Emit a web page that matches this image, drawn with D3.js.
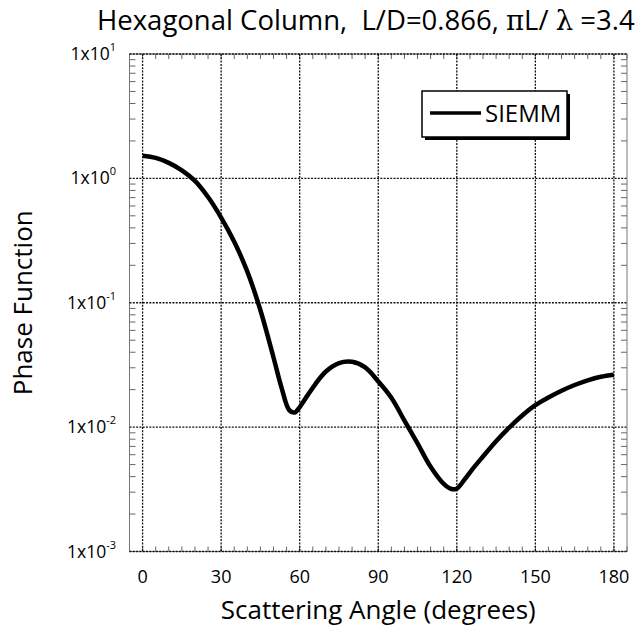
<!DOCTYPE html>
<html>
<head>
<meta charset="utf-8">
<script src="https://cdn.jsdelivr.net/npm/d3@7"></script>
<style>
  html, body { margin: 0; padding: 0; background: #fff; }
  svg { display: block; }
  text { font-family: "Open Sans", "Noto Sans", sans-serif; fill: #000; white-space: pre; }
</style>
</head>
<body>
<svg id="chart" width="636" height="637"></svg>
<script>
// ---- data ----
const angles = [0, 5, 10, 15, 20, 25, 30, 35, 40, 45, 50, 53, 56, 58, 60, 63, 66, 70, 75, 80, 85, 90, 95, 100, 105, 110, 115, 118, 120, 123, 126, 130, 135, 140, 145, 150, 155, 160, 165, 170, 175, 180];
const siemm = [1.52, 1.46, 1.333, 1.16, 0.955, 0.708, 0.484, 0.309, 0.178, 0.087, 0.0363, 0.021, 0.0137, 0.0131, 0.0145, 0.018, 0.0222, 0.028, 0.0327, 0.0335, 0.0302, 0.0233, 0.0172, 0.0113, 0.0074, 0.0048, 0.0035, 0.00318, 0.0032, 0.0038, 0.0046, 0.0058, 0.0077, 0.0099, 0.0124, 0.0150, 0.0173, 0.0196, 0.0218, 0.0238, 0.0254, 0.0264];
const xTicks = [0, 30, 60, 90, 120, 150, 180];
const yExponents = [1, 0, -1, -2, -3];
const seriesName = "SIEMM";
const titleParts = [["Hexagonal Column,  L/D=0.866, ", false], ["\u03c0", true], ["L/ ", false], ["\u03bb", true], [" =3.4", false]];
const xLabel = "Scattering Angle (degrees)";
const yLabel = "Phase Function";

// ---- layout ----
const pL = 129.5, pR = 627, pT = 54, pB = 551.5;
const svg = d3.select("#chart");

const x = d3.scaleLinear().domain([-5, 185]).range([pL, pR]);
const y = d3.scaleLog().domain([1e-3, 1e1]).range([pB, pT]);

// minor ticks
const xMinor = d3.range(-5, 186, 5);
const tickG = svg.append("g").attr("stroke", "#666").attr("stroke-width", 1);
xMinor.forEach(v => {
  tickG.append("line").attr("x1", x(v)).attr("x2", x(v)).attr("y1", pB).attr("y2", pB - 5);
  tickG.append("line").attr("x1", x(v)).attr("x2", x(v)).attr("y1", pT).attr("y2", pT + 5);
});
const yMinor = [];
for (let e = -3; e < 1; e++) for (let m = 2; m <= 9; m++) yMinor.push(m * Math.pow(10, e));
yMinor.forEach(v => {
  tickG.append("line").attr("x1", pL).attr("x2", pL + 6).attr("y1", y(v)).attr("y2", y(v));
  tickG.append("line").attr("x1", pR).attr("x2", pR - 6).attr("y1", y(v)).attr("y2", y(v));
});

// frame
svg.append("rect").attr("x", pL).attr("y", pT)
  .attr("width", pR - pL).attr("height", pB - pT)
  .attr("fill", "none").attr("stroke", "#777").attr("stroke-width", 1);

// grid lines
const gridColor = "#111";
svg.append("g").selectAll("line").data(xTicks).join("line")
  .attr("x1", d => x(d)).attr("x2", d => x(d))
  .attr("y1", pT).attr("y2", pB)
  .attr("stroke", gridColor).attr("stroke-width", 1.3)
  .attr("stroke-dasharray", "2,1.3");
svg.append("g").selectAll("line").data(yExponents).join("line")
  .attr("x1", pL).attr("x2", pR)
  .attr("y1", d => y(Math.pow(10, d))).attr("y2", d => y(Math.pow(10, d)))
  .attr("stroke", gridColor).attr("stroke-width", 1.3)
  .attr("stroke-dasharray", "2,1.3");

// x tick labels
svg.append("g").selectAll("text").data(xTicks).join("text")
  .attr("x", d => x(d)).attr("y", 583)
  .attr("text-anchor", "middle").attr("font-size", 18)
  .text(d => d);

// y tick labels
const yl = svg.append("g");
yExponents.forEach(e => {
  const t = yl.append("text")
    .attr("x", 116).attr("y", y(Math.pow(10, e)) + 6)
    .attr("text-anchor", "end").attr("font-size", 17.5);
  t.append("tspan").text("1x10");
  t.append("tspan").attr("font-size", 11).attr("dy", -9).text(e);
});

// curve
const pts = angles.map((a, i) => [a, siemm[i]]);
svg.append("path").datum(pts)
  .attr("fill", "none").attr("stroke", "#000").attr("stroke-width", 4.5)
  .attr("stroke-linejoin", "round").attr("stroke-linecap", "butt")
  .attr("d", d3.line().x(d => x(d[0])).y(d => y(d[1])).curve(d3.curveCatmullRom.alpha(0.5)));

// legend
const lg = svg.append("g");
lg.append("rect").attr("x", 425).attr("y", 94).attr("width", 145).attr("height", 46).attr("fill", "#000");
lg.append("rect").attr("x", 422).attr("y", 91).attr("width", 145).attr("height", 46)
  .attr("fill", "#fff").attr("stroke", "#000").attr("stroke-width", 1.5);
lg.append("line").attr("x1", 430).attr("x2", 481).attr("y1", 113).attr("y2", 113)
  .attr("stroke", "#000").attr("stroke-width", 3.5);
lg.append("text").attr("x", 485).attr("y", 122).attr("font-size", 24).text(seriesName);

// titles
const tt = svg.append("text").attr("x", 97).attr("y", 30).attr("font-size", 27.5);
titleParts.forEach(([s, greek]) => {
  const sp = tt.append("tspan").text(s);
  if (greek) sp.attr("font-family", "'DejaVu Serif', 'Liberation Serif', serif");
});
svg.append("text").attr("x", (pL + pR) / 2).attr("y", 619)
  .attr("text-anchor", "middle").attr("font-size", 26).text(xLabel);
svg.append("text").attr("transform", `translate(32,${(pT + pB) / 2}) rotate(-90)`)
  .attr("text-anchor", "middle").attr("font-size", 26).text(yLabel);
</script>
</body>
</html>
